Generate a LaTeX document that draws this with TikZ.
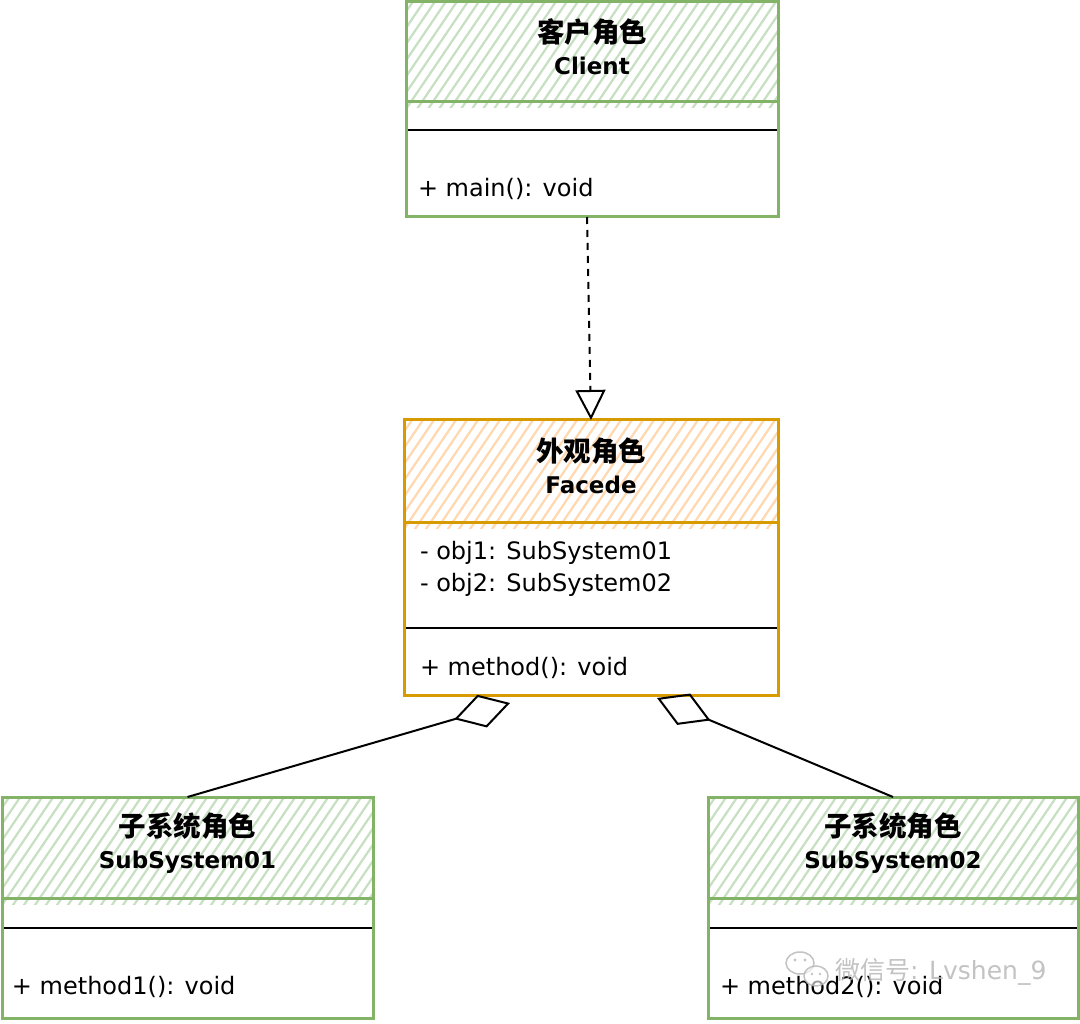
\documentclass[tikz,border=0pt]{standalone}
\usepackage{fontspec}
\setmainfont{DejaVu Sans}
\newfontfamily\cjk{Noto Sans CJK SC}
\usetikzlibrary{arrows.meta}
\definecolor{gstroke}{HTML}{82B366}
\definecolor{ghatch}{HTML}{C6E0C1}
\definecolor{ostroke}{HTML}{D79B00}
\definecolor{ohatch}{HTML}{FFD8B0}
\definecolor{wmgray}{HTML}{B4B4B4}
\newcommand\myhatch[5]{%
  \begin{scope}
    \clip (#1,#2) rectangle (#3,#4);
    \foreach \k in {-90,-79,...,400}
      \draw[#5, line width=2.2pt, line cap=round] ({#1+\k},{#4+4}) -- ++(76,-112);
  \end{scope}}
\begin{document}
\begin{tikzpicture}[x=1pt,y=-1pt,
  boxpart/.style={inner sep=0pt, outer sep=0pt},
  title/.style={inner sep=0pt, outer sep=0pt, align=center,
    font=\fontsize{23}{32}\selectfont\bfseries},
  txt/.style={inner sep=0pt, outer sep=0pt, align=left, anchor=west,
    font=\fontsize{24}{32}\selectfont},
  gbox/.style={draw=gstroke, line width=3pt},
  obox/.style={draw=ostroke, line width=3pt},
  sepline/.style={draw=black, line width=2.2pt},
  dep/.style={draw=black, line width=2pt, dash pattern=on 7pt off 6pt,
    -{Triangle[open, length=30pt, width=30pt, line width=2pt]}},
  agg/.style={draw=black, line width=2pt,
    -{Diamond[open, length=58pt, width=34pt, line width=2pt]}},
  wmtext/.style={inner sep=0pt, text=wmgray, opacity=0.8,
    font=\fontsize{25}{32}\selectfont}
]
\fill[white] (0,0) rectangle (1080,1024);
\useasboundingbox (0,0) rectangle (1080,1024);

% hatches
\myhatch{406}{2}{778}{108}{ghatch}
\myhatch{404}{420}{778}{528}{ohatch}
\myhatch{2}{797}{373}{904}{ghatch}
\myhatch{708}{797}{1078}{904}{ghatch}

% ---- Client
\node[boxpart, minimum width=372pt, minimum height=100pt] (clientH) at (592,52) {};
\node[title] (clientT) at (592,47) {{\cjk\fontsize{27.5}{32}\selectfont\bfseries 客户角色}\\ Client};
\node[boxpart, minimum width=372pt, minimum height=115pt, anchor=north] (clientB) at (clientH.south) {};
\draw[sepline] ([yshift=-28pt]clientB.north west) -- ([yshift=-28pt]clientB.north east);
\node[txt] (clientM) at (418,189) {+ main(): void};
\draw[gbox] (clientH.north west) rectangle (clientB.south east);
\draw[gbox] (clientH.south west) -- (clientH.south east);

% ---- Facade
\node[boxpart, minimum width=374pt, minimum height=102pt] (facadeH) at (591,471) {};
\node[title] (facadeT) at (591,466) {{\cjk\fontsize{27.5}{32}\selectfont\bfseries 外观角色}\\ Facede};
\node[boxpart, minimum width=374pt, minimum height=173pt, anchor=north] (facadeB) at (facadeH.south) {};
\draw[sepline] ([yshift=-106pt]facadeB.north west) -- ([yshift=-106pt]facadeB.north east);
\node[txt] (facadeA) at (420,569) {- obj1: SubSystem01\\- obj2: SubSystem02};
\node[txt] (facadeM) at (420,668) {+ method(): void};
\draw[obox] (facadeH.north west) rectangle (facadeB.south east);
\draw[obox] (facadeH.south west) -- (facadeH.south east);

% ---- SubSystem01
\node[boxpart, minimum width=371pt, minimum height=101pt] (subAH) at (187.5,847.5) {};
\node[title] (subAT) at (187.5,843) {{\cjk\fontsize{27.5}{32}\selectfont\bfseries 子系统角色}\\ SubSystem01};
\node[boxpart, minimum width=371pt, minimum height=120pt, anchor=north] (subAB) at (subAH.south) {};
\draw[sepline] ([yshift=-30pt]subAB.north west) -- ([yshift=-30pt]subAB.north east);
\node[txt] (subAM) at (12,987) {+ method1(): void};
\draw[gbox] (subAH.north west) rectangle (subAB.south east);
\draw[gbox] (subAH.south west) -- (subAH.south east);

% ---- SubSystem02
\node[boxpart, minimum width=370pt, minimum height=101pt] (subBH) at (893,847.5) {};
\node[title] (subBT) at (893,843) {{\cjk\fontsize{27.5}{32}\selectfont\bfseries 子系统角色}\\ SubSystem02};
\node[boxpart, minimum width=370pt, minimum height=120pt, anchor=north] (subBB) at (subBH.south) {};
\draw[sepline] ([yshift=-30pt]subBB.north west) -- ([yshift=-30pt]subBB.north east);
\node[txt] (subBM) at (720,987) {+ method2(): void};
\draw[gbox] (subBH.north west) rectangle (subBB.south east);
\draw[gbox] (subBH.south west) -- (subBH.south east);

% ---- connectors
\draw[dep] ([xshift=-5pt]clientB.south) -- (facadeH.north);
\coordinate (aggA) at (510,703);
\coordinate (aggB) at (657,698);
\draw[agg] (subAH.north) -- (aggA);
\draw[agg] (subBH.north) -- (aggB);

% ---- watermark
\begin{scope}[draw=wmgray, line width=1.5pt, opacity=0.8]
  \draw[fill=white, fill opacity=0.6] (800,963) ellipse [x radius=14pt, y radius=11pt];
  \draw[fill=white, fill opacity=0.6] (816,976) ellipse [x radius=12pt, y radius=10pt];
  \fill[wmgray] (795,960) circle (1.6pt) (805,960) circle (1.6pt)
                (812,974) circle (1.4pt) (820,974) circle (1.4pt);
\end{scope}
\node[wmtext, anchor=west] (wmark) at (835,972) {{\cjk 微信号}: Lvshen\_9};
\end{tikzpicture}
\end{document}
